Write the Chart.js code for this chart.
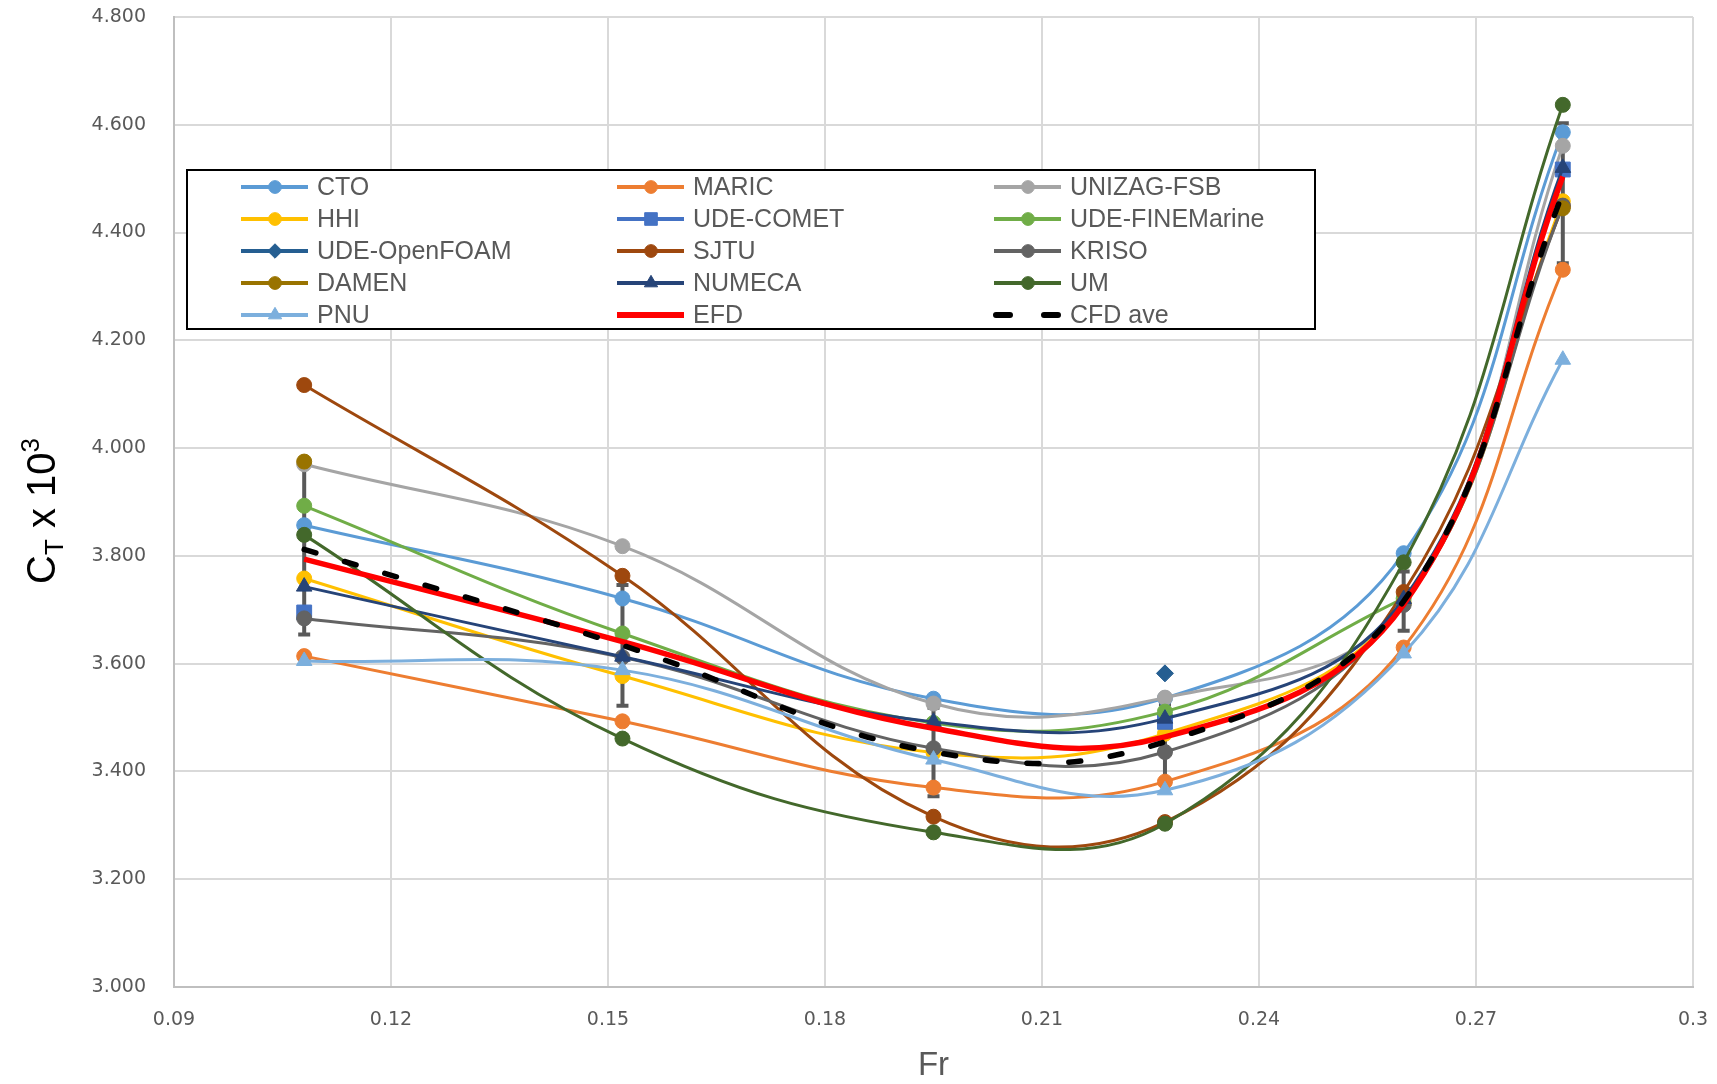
<!DOCTYPE html>
<html><head><meta charset="utf-8">
<script src="https://cdn.jsdelivr.net/npm/chart.js@4.4.1/dist/chart.umd.min.js"></script>
<style>html,body{margin:0;padding:0;background:#fff;}#wrap{width:1717px;height:1084px;position:relative;}</style>
</head><body>
<div id="wrap"><canvas id="c" width="1717" height="1084"></canvas></div>
<script>
// ---- data ----
const fr = [0.108, 0.152, 0.195, 0.227, 0.260, 0.282];
const xTicks = [0.09, 0.12, 0.15, 0.18, 0.21, 0.24, 0.27, 0.30];
const yTicks = [3.0, 3.2, 3.4, 3.6, 3.8, 4.0, 4.2, 4.4, 4.6, 4.8];

const CTO          = [3.857, 3.721, 3.535, 3.536, 3.805, 4.586];
const MARIC        = [3.614, 3.493, 3.370, 3.381, 3.630, 4.331];
const UNIZAG_FSB   = [3.970, 3.818, 3.526, 3.537, 3.712, 4.561];
const HHI          = [3.758, 3.577, 3.435, 3.470, 3.712, 4.458];
const UDE_COMET    = [3.695, null, null, 3.492, null, 4.517];
const UDE_FINE     = [3.893, 3.656, 3.490, 3.511, 3.721, null];
const UDE_OPENFOAM = [null, null, null, 3.582, null, null];
const SJTU         = [4.117, 3.763, 3.316, 3.306, 3.733, 4.449];
const KRISO        = [3.684, 3.612, 3.443, 3.436, 3.709, 4.450];
const DAMEN        = [3.975, null, null, null, null, 4.445];
const NUMECA       = [3.743, 3.613, 3.492, 3.498, 3.720, 4.520];
const UM           = [3.839, 3.461, 3.287, 3.303, 3.788, 4.637];
const PNU          = [3.605, 3.588, 3.422, 3.365, 3.619, 4.164];
const EFD          = [3.794, 3.641, 3.480, 3.464, 3.710, 4.504];
const CFD_AVE      = [3.812, 3.634, 3.436, 3.455, 3.716, 4.473];
const CFD_ERR      = [0.158, 0.112, 0.082, 0.070, 0.055, 0.130];

const seriesNames = ['CTO','MARIC','UNIZAG-FSB','HHI','UDE-COMET','UDE-FINEMarine','UDE-OpenFOAM','SJTU','KRISO','DAMEN','NUMECA','UM','PNU','EFD','CFD ave'];
const seriesValues = [CTO, MARIC, UNIZAG_FSB, HHI, UDE_COMET, UDE_FINE, UDE_OPENFOAM, SJTU, KRISO, DAMEN, NUMECA, UM, PNU, EFD, CFD_AVE];

// ---- styles ----
const seriesColors = ['#5B9BD5','#ED7D31','#A5A5A5','#FFC000','#4472C4','#70AD47','#255E91','#9E480E','#636363','#997300','#264478','#43682B','#7CAFDD','#FF0000','#000000'];
const seriesMarkers = ['circle','circle','circle','circle','rect','circle','rectRot','circle','circle','circle','triangle','circle','triangle',false,false];
const markerRadius = {circle:7.5, rect:10.5, rectRot:8.5, triangle:9};

const datasets = seriesNames.map((name, i) => {
  const col = seriesColors[i];
  const mk = seriesMarkers[i];
  const isEFD = name === 'EFD', isCFD = name === 'CFD ave';
  return {
    label: name,
    data: fr.map((x, j) => ({x: x, y: seriesValues[i][j]})),
    borderColor: col,
    backgroundColor: col,
    pointBackgroundColor: col,
    pointBorderColor: col,
    pointBorderWidth: 1,
    pointStyle: mk || 'circle',
    pointRadius: mk ? markerRadius[mk] : 0,
    borderWidth: (isEFD || isCFD) ? 5.5 : 3,
    borderDash: isCFD ? [12, 30] : [],
    borderCapStyle: isCFD ? 'round' : 'butt',
    tension: 0.4,
    spanGaps: false,
    fill: false,
    order: seriesNames.length - i
  };
});

const customPlugin = {
  id: 'custom',
  beforeDatasetsDraw(chart) {
    const ctx = chart.ctx, xs = chart.scales.x, ys = chart.scales.y;
    ctx.save();
    ctx.strokeStyle = '#595959';
    ctx.lineWidth = 4;
    ctx.setLineDash([]);
    fr.forEach((x, j) => {
      const px = xs.getPixelForValue(x);
      const top = ys.getPixelForValue(CFD_AVE[j] + CFD_ERR[j]);
      const bot = ys.getPixelForValue(CFD_AVE[j] - CFD_ERR[j]);
      ctx.beginPath();
      ctx.moveTo(px, top); ctx.lineTo(px, bot);
      ctx.moveTo(px - 6, top); ctx.lineTo(px + 6, top);
      ctx.moveTo(px - 6, bot); ctx.lineTo(px + 6, bot);
      ctx.stroke();
    });
    ctx.restore();
  },
  afterDraw(chart) {
    const ctx = chart.ctx;
    ctx.save();
    // legend box
    const bx = 187, by = 170, bw = 1128, bh = 159;
    ctx.fillStyle = '#ffffff';
    ctx.fillRect(bx, by, bw, bh);
    ctx.strokeStyle = '#000000';
    ctx.lineWidth = 2;
    ctx.strokeRect(bx, by, bw, bh);
    const colX = [241, 617, 994];
    const rowY0 = 187, rowH = 32;
    seriesNames.forEach((name, k) => {
      const row = Math.floor(k / 3), col = k % 3;
      const x0 = colX[col], y0 = rowY0 + row * rowH;
      const c = seriesColors[k];
      const isEFD = name === 'EFD', isCFD = name === 'CFD ave';
      ctx.strokeStyle = c;
      ctx.lineWidth = (isEFD || isCFD) ? 6 : 4;
      ctx.lineCap = isCFD ? 'round' : 'butt';
      ctx.setLineDash(isCFD ? [14, 34] : []);
      ctx.beginPath();
      ctx.moveTo(isCFD ? x0 + 2 : x0, y0); ctx.lineTo(x0 + 67, y0);
      ctx.stroke();
      ctx.setLineDash([]);
      ctx.lineCap = 'butt';
      const mk = seriesMarkers[k];
      if (mk) {
        ctx.fillStyle = c;
        ctx.strokeStyle = c;
        ctx.lineWidth = 1;
        Chart.helpers.drawPoint(ctx, {pointStyle: mk, radius: markerRadius[mk] * 0.85, borderWidth: 1, rotation: 0}, x0 + 34, y0);
      }
      ctx.fillStyle = '#595959';
      ctx.font = '25px "Liberation Sans"';
      ctx.textBaseline = 'middle';
      ctx.textAlign = 'left';
      ctx.fillText(name, x0 + 76, y0 + 1);
    });
    // x title
    ctx.fillStyle = '#595959';
    ctx.font = '33px "Liberation Sans"';
    ctx.textAlign = 'center';
    ctx.textBaseline = 'middle';
    ctx.fillText('Fr', (chart.chartArea.left + chart.chartArea.right) / 2, 1066);
    // y title: C_T x 10^3
    ctx.translate(55, 511);
    ctx.rotate(-Math.PI / 2);
    const big = '40px "Liberation Sans"', small = '26px "Liberation Sans"';
    const parts = [{t:'C', f:big, dy:0}, {t:'T', f:small, dy:8}, {t:' x 10', f:big, dy:0}, {t:'3', f:small, dy:-16}];
    let total = 0;
    parts.forEach(p => { ctx.font = p.f; p.w = ctx.measureText(p.t).width; total += p.w; });
    let cx = -total / 2;
    ctx.fillStyle = '#000000';
    ctx.textAlign = 'left';
    ctx.textBaseline = 'alphabetic';
    parts.forEach(p => { ctx.font = p.f; ctx.fillText(p.t, cx, p.dy); cx += p.w; });
    ctx.restore();
  }
};

new Chart(document.getElementById('c'), {
  type: 'line',
  data: { datasets: datasets },
  options: {
    responsive: false,
    animation: false,
    events: [],
    devicePixelRatio: 1,
    layout: { padding: { top: 17, right: 24, bottom: 0, left: 0 } },
    plugins: { legend: { display: false }, tooltip: { enabled: false }, title: { display: false } },
    scales: {
      x: {
        type: 'linear', min: 0.09, max: 0.30,
        afterBuildTicks: s => { s.ticks = xTicks.map(v => ({value: v})); },
        afterFit: s => { s.height = 97; s.paddingLeft = 0; s.paddingRight = 0; },
        ticks: { color: '#595959', font: { family: 'DejaVu Sans', size: 19 }, padding: 22, maxRotation: 0, autoSkip: false,
                 callback: v => String(+Number(v).toFixed(2)) },
        grid: { color: '#d9d9d9', lineWidth: 2, drawTicks: false },
        border: { color: '#bfbfbf', width: 2 }
      },
      y: {
        type: 'linear', min: 3.0, max: 4.8,
        afterBuildTicks: s => { s.ticks = yTicks.map(v => ({value: v})); },
        afterFit: s => { s.width = 174; s.paddingTop = 0; s.paddingBottom = 0; },
        ticks: { color: '#595959', font: { family: 'DejaVu Sans', size: 19 }, padding: 28, autoSkip: false,
                 callback: v => Number(v).toFixed(3) },
        grid: { color: '#d9d9d9', lineWidth: 2, drawTicks: false },
        border: { color: '#bfbfbf', width: 2 }
      }
    }
  },
  plugins: [customPlugin]
});
</script>
</body></html>
